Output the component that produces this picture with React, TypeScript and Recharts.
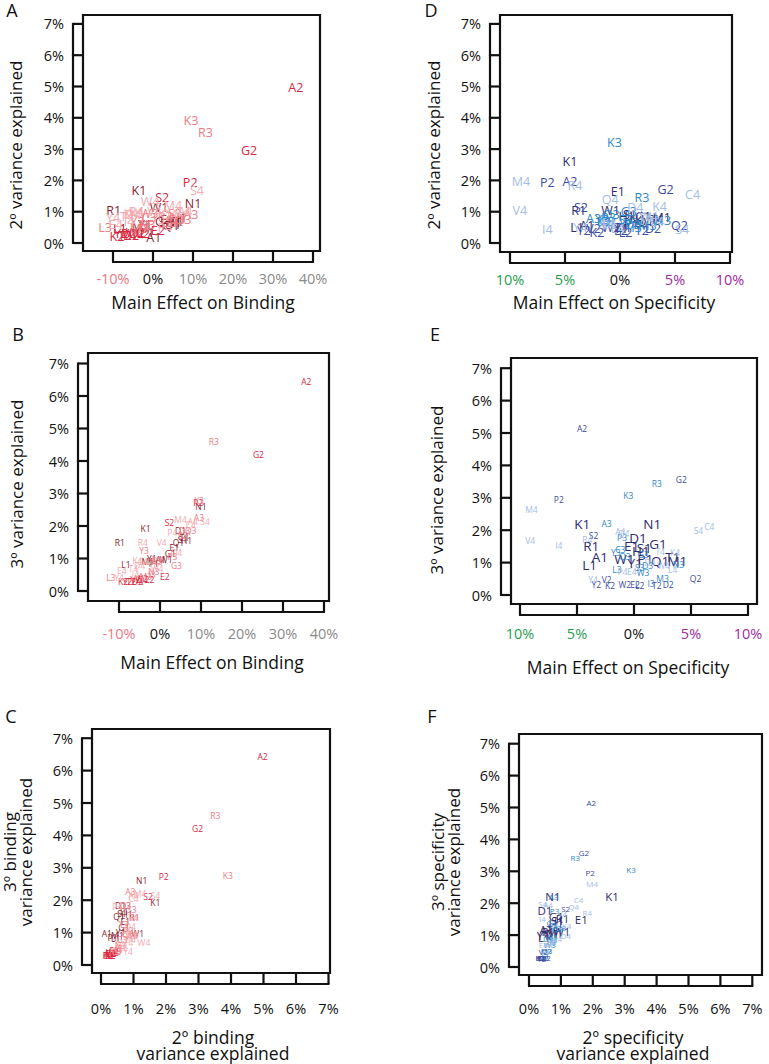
import React from 'react';
import { ScatterChart, Scatter, XAxis, YAxis, ReferenceArea } from 'recharts';

const FONT = '"Open Sans", "Noto Sans", Arial, sans-serif';
const INK = '#111111';

// mutation labels (amino acid + position)
const mutations = [
  'A1', 'D1', 'E1', 'G1', 'H1', 'K1', 'L1', 'M1', 'N1', 'P1', 'Q1', 'R1', 'S1', 'T1', 'W1', 'Y1',
  'A2', 'D2', 'E2', 'G2', 'K2', 'L2', 'P2', 'Q2', 'S2', 'T2', 'V2', 'W2', 'Y2',
  'A3', 'C3', 'D3', 'G3', 'I3', 'K3', 'L3', 'M3', 'N3', 'P3', 'Q3', 'R3', 'S3', 'W3', 'Y3',
  'A4', 'C4', 'D4', 'E4', 'I4', 'K4', 'L4', 'M4', 'P4', 'Q4', 'R4', 'S4', 'T4', 'V4', 'W4', 'Y4',
];

// main effect on binding (%)
const bindMain = [
  0.2, 5.0, 3.5, 2.5, 6.5, -3.5, -8.3, -3.0, 10.0, -1.5, 4.5, -9.8, 5.5, 6.0, 1.5, -2.0,
  35.7, -5.5, 1.2, 24.0, -9.0, -2.5, 9.3, -4.0, 2.3, -7.0, -6.0, -4.5, -8.0,
  9.5, -1.0, 6.0, 4.0, -2.0, 9.5, -12.0, -3.5, -1.5, 3.0, 7.5, 13.1, 5.5, -1.0, -3.9,
  8.0, 7.5, -5.0, -9.3, -6.0, -5.5, -4.0, 5.0, 3.0, 4.0, -4.2, 11.0, -6.5, 0.4, -0.7, -10.0,
];
// 2nd order binding variance explained (%)
const bind2 = [
  0.18, 0.6, 0.75, 0.7, 0.8, 1.67, 0.45, 0.5, 1.25, 0.35, 0.55, 1.03, 0.65, 0.7, 1.13, 0.6,
  4.97, 0.25, 0.4, 2.97, 0.2, 0.3, 1.93, 0.3, 1.45, 0.25, 0.3, 0.35, 0.3,
  0.9, 0.8, 0.75, 0.65, 0.55, 3.9, 0.48, 0.45, 0.6, 0.85, 0.75, 3.52, 0.95, 0.95, 0.7,
  1.0, 1.0, 0.9, 0.6, 0.7, 0.95, 1.0, 1.2, 0.5, 0.9, 1.0, 1.67, 0.85, 1.0, 1.32, 0.83,
];
// 3rd order binding variance explained (%)
const bind3 = [
  0.98, 1.85, 1.35, 1.15, 1.55, 1.92, 0.83, 0.9, 2.6, 0.85, 1.5, 1.48, 1.6, 1.65, 0.97, 1.0,
  6.45, 0.3, 0.46, 4.21, 0.3, 0.35, 2.72, 0.35, 2.1, 0.3, 0.35, 0.4, 0.3,
  2.26, 0.95, 1.85, 0.8, 0.5, 2.77, 0.43, 0.45, 0.6, 1.05, 1.85, 4.6, 1.72, 0.9, 1.26,
  2.15, 2.05, 0.8, 0.62, 0.5, 0.95, 0.9, 2.2, 1.8, 1.2, 1.48, 2.15, 0.7, 1.48, 0.68, 0.42,
];
// main effect on specificity (%)
const specMain = [
  -3.0, 0.35, -0.2, 2.1, 0.6, -4.55, -3.9, 3.8, 1.6, 1.0, 2.3, -3.75, 0.9, 3.4, -0.85, 0.1,
  -4.55, 3.0, 0.1, 4.15, -2.1, 0.5, -6.6, 5.4, -3.55, 2.0, -2.4, -0.8, -3.3,
  -2.4, -1.2, 1.2, 0.8, 1.5, -0.5, -1.5, 2.5, 3.9, -1.05, -0.8, 2.0, 0.5, 0.8, -1.6,
  -1.2, 6.6, 1.4, -0.2, -6.6, 3.6, 3.4, -9.0, -1.0, -0.9, -4.1, 5.65, 2.3, -9.1, 2.6, -3.6,
];
// 2nd order specificity variance explained (%)
const spec2 = [
  0.55, 0.5, 1.64, 0.85, 0.85, 2.6, 0.48, 0.8, 0.75, 0.6, 0.7, 1.05, 0.9, 0.75, 1.03, 0.45,
  1.95, 0.45, 0.4, 1.72, 0.35, 0.35, 1.92, 0.55, 1.15, 0.4, 0.45, 0.5, 0.4,
  0.77, 0.7, 0.6, 1.0, 0.5, 3.2, 0.7, 0.55, 0.73, 0.8, 0.9, 1.45, 0.75, 0.65, 0.75,
  0.6, 1.55, 1.15, 0.45, 0.42, 1.18, 0.7, 1.98, 0.6, 1.4, 1.83, 0.43, 0.8, 1.05, 0.85, 0.5,
];
// 3rd order specificity variance explained (%)
const spec3 = [
  1.18, 1.76, 1.5, 1.57, 1.35, 2.2, 0.93, 1.05, 2.2, 1.1, 1.05, 1.52, 1.45, 1.17, 1.1, 1.0,
  5.15, 0.31, 0.31, 3.58, 0.3, 0.3, 2.95, 0.52, 1.83, 0.28, 0.49, 0.31, 0.31,
  2.2, 1.4, 0.9, 1.25, 0.37, 3.06, 0.8, 0.52, 0.95, 1.76, 1.2, 3.44, 0.85, 0.7, 1.3,
  1.95, 2.12, 1.0, 0.72, 1.52, 1.3, 0.8, 2.63, 0.72, 1.9, 1.7, 2.0, 1.33, 1.67, 0.9, 0.49,
];

const pctTicks = [0, 1, 2, 3, 4, 5, 6, 7];
const bindMainTicks = [-10, 0, 10, 20, 30, 40];
const specMainTicks = [-10, -5, 0, 5, 10];

const bindColors: Record<string, string> = { '1': '#8a1c30', '2': '#d8283f', '3': '#f07b82', '4': '#f6aab1' };
const specColors: Record<string, string> = { '1': '#2e2b6c', '2': '#3d4ca0', '3': '#2f88cb', '4': '#a6bde6' };

const bindTickColor = (v: number) => (v < 0 ? '#ee7880' : v === 0 ? INK : '#8a8a8a');
const specTickColor = (v: number) => (v < 0 ? '#1f9e50' : v === 0 ? INK : '#a02a9c');

interface Panel {
  letter: string;
  letterPos: [number, number];
  box: [number, number, number, number];
  x0: number; xUnit: number;
  y0: number; yUnit: number;
  xs: number[]; ys: number[];
  xTicks: number[];
  xFmt: (v: number) => string;
  xColor: (v: number) => string;
  xLabelDy: number;
  colors: Record<string, string>;
  size: (pos: string) => number;
  xTitle: string[]; xTitlePos: [number, number];
  yTitle: string[]; yTitlePos: [number, number];
}

const pct = (v: number) => `${v}%`;
const absPct = (v: number) => `${Math.abs(v)}%`;

const panels: Panel[] = [
  {
    letter: 'A', letterPos: [12, 10], box: [83, 15, 320, 251],
    x0: 153, xUnit: 4, y0: 243, yUnit: 31.3,
    xs: bindMain, ys: bind2, xTicks: bindMainTicks, xFmt: pct, xColor: bindTickColor, xLabelDy: 27,
    colors: bindColors, size: () => 12.5,
    xTitle: ['Main Effect on Binding'], xTitlePos: [203, 302],
    yTitle: ['2º variance explained'], yTitlePos: [16, 145],
  },
  {
    letter: 'D', letterPos: [431, 10], box: [500, 15, 732, 252],
    x0: 620, xUnit: 11, y0: 243, yUnit: 31.3,
    xs: specMain, ys: spec2, xTicks: specMainTicks, xFmt: absPct, xColor: specTickColor, xLabelDy: 27,
    colors: specColors, size: () => 12.5,
    xTitle: ['Main Effect on Specificity'], xTitlePos: [614, 302],
    yTitle: ['2º variance explained'], yTitlePos: [434, 145],
  },
  {
    letter: 'B', letterPos: [18, 334], box: [88, 353, 329, 601],
    x0: 160, xUnit: 4.1, y0: 591, yUnit: 32.5,
    xs: bindMain, ys: bind3, xTicks: bindMainTicks, xFmt: pct, xColor: bindTickColor, xLabelDy: 32,
    colors: bindColors, size: () => 8.5,
    xTitle: ['Main Effect on Binding'], xTitlePos: [212, 662],
    yTitle: ['3º variance explained'], yTitlePos: [17, 484],
  },
  {
    letter: 'E', letterPos: [435, 334], box: [511, 358, 757, 604],
    x0: 634, xUnit: 11.4, y0: 595, yUnit: 32.4,
    xs: specMain, ys: spec3, xTicks: specMainTicks, xFmt: absPct, xColor: specTickColor, xLabelDy: 29,
    colors: specColors, size: (p) => (p === '1' ? 13.5 : 8.5),
    xTitle: ['Main Effect on Specificity'], xTitlePos: [628, 667],
    yTitle: ['3º variance explained'], yTitlePos: [437, 490],
  },
  {
    letter: 'C', letterPos: [11, 716], box: [92, 729, 330, 973],
    x0: 101, xUnit: 32.5, y0: 965, yUnit: 32.4,
    xs: bind2, ys: bind3, xTicks: pctTicks, xFmt: pct, xColor: () => INK, xLabelDy: 35,
    colors: bindColors, size: () => 8.5,
    xTitle: ['2º binding', 'variance explained'], xTitlePos: [213, 1045],
    yTitle: ['3º binding', 'variance explained'], yTitlePos: [18, 852],
  },
  {
    letter: 'F', letterPos: [432, 716], box: [519, 734, 762, 975],
    x0: 529, xUnit: 31.9, y0: 967, yUnit: 31.9,
    xs: spec2, ys: spec3, xTicks: pctTicks, xFmt: pct, xColor: () => INK, xLabelDy: 33,
    colors: specColors, size: (p) => (p === '1' ? 11.5 : 8),
    xTitle: ['2º specificity', 'variance explained'], xTitlePos: [633, 1045],
    yTitle: ['3º specificity', 'variance explained'], yTitlePos: [446, 862],
  },
];

const ML = 80;
const MT = 20;
const MR = 20;
const MB = 80;
const TICK_FONT = 14.5;
const LW = 2.2;

function XTick(props: any) {
  const { x, y, payload, index, cfg } = props;
  const p = cfg as Panel;
  const n = p.xTicks.length;
  const axisY = y + 11;
  const step = index < n - 1 ? (p.xTicks[index + 1] - p.xTicks[index]) * p.xUnit : 0;
  return (
    <g>
      <line x1={x} x2={x} y1={y + 1} y2={axisY} stroke={INK} strokeWidth={LW} />
      {index < n - 1 && (
        <line x1={x - 1} x2={x + step + 1} y1={axisY} y2={axisY} stroke={INK} strokeWidth={LW} />
      )}
      <text x={x} y={y + p.xLabelDy} textAnchor="middle" dominantBaseline="central"
        fontSize={TICK_FONT} fontFamily={FONT} fill={p.xColor(payload.value)}>
        {p.xFmt(payload.value)}
      </text>
    </g>
  );
}

function YTick(props: any) {
  const { x, y, payload, index, cfg } = props;
  const p = cfg as Panel;
  const n = pctTicks.length;
  const axisX = x - 10;
  const step = index < n - 1 ? (pctTicks[index + 1] - pctTicks[index]) * p.yUnit : 0;
  return (
    <g>
      <line x1={axisX} x2={x - 1} y1={y} y2={y} stroke={INK} strokeWidth={LW} />
      {index < n - 1 && (
        <line x1={axisX} x2={axisX} y1={y + 1} y2={y - step - 1} stroke={INK} strokeWidth={LW} />
      )}
      <text x={x - 19} y={y} textAnchor="end" dominantBaseline="central"
        fontSize={TICK_FONT} fontFamily={FONT} fill={INK}>
        {`${payload.value}%`}
      </text>
    </g>
  );
}

function MutLabel(props: any) {
  const { cx, cy, payload } = props;
  if (cx == null || cy == null) return null;
  return (
    <text x={cx} y={cy} textAnchor="middle" dominantBaseline="central"
      fontSize={payload.size} fontFamily={FONT} fill={payload.color}>
      {payload.label}
    </text>
  );
}

function PanelChart({ p }: { p: Panel }) {
  const [l, t, r, b] = p.box;
  const xMin = (l - p.x0) / p.xUnit;
  const xMax = (r - p.x0) / p.xUnit;
  const yMax = (p.y0 - t) / p.yUnit;
  const yMin = (p.y0 - b) / p.yUnit;
  const data = mutations.map((m, i) => {
    const pos = m.slice(1);
    return { label: m, x: p.xs[i], y: p.ys[i], color: p.colors[pos], size: p.size(pos) };
  });
  const W = r - l + ML + MR;
  const H = b - t + MT + MB;
  const text: React.CSSProperties = {
    position: 'absolute', fontFamily: FONT, color: INK, whiteSpace: 'nowrap', lineHeight: '16px',
  };
  return (
    <>
      <div style={{ position: 'absolute', left: l - ML, top: t - MT }}>
        <ScatterChart width={W} height={H} margin={{ top: MT, right: MR, bottom: 0, left: 0 }}>
          <XAxis type="number" dataKey="x" domain={[xMin, xMax]} allowDataOverflow
            ticks={p.xTicks} interval={0} height={MB} axisLine={false} tickLine={false}
            tickSize={0} tickMargin={0} tick={(tp: any) => <XTick {...tp} cfg={p} />} />
          <YAxis type="number" dataKey="y" domain={[yMin, yMax]} allowDataOverflow
            ticks={pctTicks} interval={0} width={ML} axisLine={false} tickLine={false}
            tickSize={0} tickMargin={0} tick={(tp: any) => <YTick {...tp} cfg={p} />} />
          <ReferenceArea x1={xMin} x2={xMax} y1={yMin} y2={yMax}
            fill="none" fillOpacity={0} stroke={INK} strokeOpacity={1} strokeWidth={LW} />
          <Scatter data={data} isAnimationActive={false} shape={(sp: any) => <MutLabel {...sp} />} />
        </ScatterChart>
      </div>
      <div style={{ ...text, left: p.letterPos[0], top: p.letterPos[1], fontSize: 18, lineHeight: '20px',
        transform: 'translate(-50%, -50%)' }}>{p.letter}</div>
      <div style={{ ...text, left: p.xTitlePos[0], top: p.xTitlePos[1], fontSize: 17.5,
        textAlign: 'center', transform: 'translate(-50%, -50%)' }}>
        {p.xTitle.map((s) => <div key={s}>{s}</div>)}
      </div>
      <div style={{ ...text, left: p.yTitlePos[0], top: p.yTitlePos[1], fontSize: 17,
        textAlign: 'center', transform: 'translate(-50%, -50%) rotate(-90deg)' }}>
        {p.yTitle.map((s) => <div key={s}>{s}</div>)}
      </div>
    </>
  );
}

export default function App() {
  return (
    <div style={{ position: 'absolute', left: 0, top: 0, width: 769, height: 1064, background: '#fff' }}>
      {panels.map((p) => <PanelChart key={p.letter} p={p} />)}
    </div>
  );
}
